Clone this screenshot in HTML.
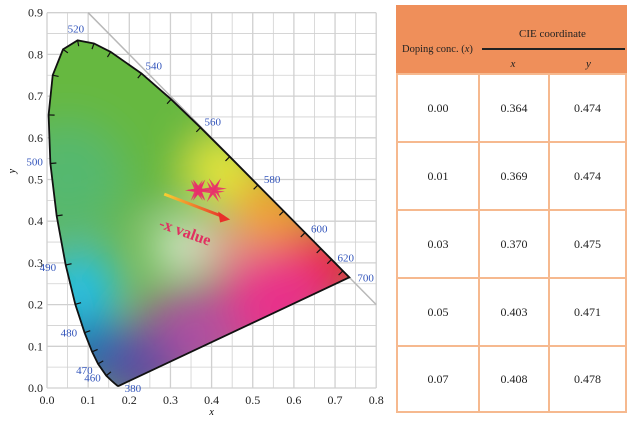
<!DOCTYPE html>
<html><head><meta charset="utf-8"><style>
body{margin:0;width:642px;height:424px;background:#fff;overflow:hidden;font-family:"Liberation Serif",serif}
.c{position:absolute;display:flex;align-items:center;justify-content:center;font-size:12px;color:#222;box-sizing:border-box}
</style></head><body>
<svg width="395" height="424" style="position:absolute;left:0;top:0">
<defs>
<filter id="bl" filterUnits="userSpaceOnUse" x="-200" y="-200" width="800" height="800"><feGaussianBlur stdDeviation="22"/></filter>
<clipPath id="cl"><path id="clp"/></clipPath>
<linearGradient id="ag" x1="0" y1="0" x2="1" y2="0"><stop offset="0" stop-color="#f8d030"/><stop offset="1" stop-color="#e8302a"/></linearGradient>
</defs>
<g id="grid"></g>
<g clip-path="url(#cl)"><rect x="0" y="0" width="395" height="424" fill="#6cb850"/><g id="fill" filter="url(#bl)"></g></g>
<g id="fg"></g>
</svg>
<div id="tbl" style="position:absolute;left:396px;top:5px;width:231px;height:408px;border:2px solid #f6b98f;box-sizing:border-box">
<div style="position:absolute;left:-2px;top:-2px;width:231px;height:68px;background:#ef8f5a"></div>
<div class="c" style="left:4px;top:32px;height:20px;font-size:10.5px">Doping conc. (<i>x</i>)</div>
<div class="c" style="left:82px;top:18px;width:145px;height:18px;font-size:11px">CIE coordinate</div>
<div style="position:absolute;left:84px;top:41px;width:143px;height:1.5px;background:#222"></div>
<div class="c" style="left:80px;top:50px;width:70px;height:14px;font-style:italic;font-size:11px">x</div>
<div class="c" style="left:152px;top:50px;width:77px;height:14px;font-style:italic;font-size:11px">y</div>
</div>
<script>
const dopings=["0.00","0.01","0.03","0.05","0.07"];
const cieX=[0.364,0.369,0.370,0.403,0.408];
const cieY=[0.474,0.474,0.475,0.471,0.478];
const locusWl=[380,420,440,450,460,470,475,480,485,490,495,500,505,510,515,520,525,530,540,550,560,570,580,590,600,610,620,640,700];
const locusX=[0.1741,0.1714,0.1644,0.1566,0.1440,0.1241,0.1096,0.0913,0.0687,0.0454,0.0235,0.0082,0.0039,0.0139,0.0389,0.0743,0.1142,0.1547,0.2296,0.3016,0.3731,0.4441,0.5125,0.5752,0.6270,0.6658,0.6915,0.7190,0.7347];
const locusY=[0.0050,0.0051,0.0109,0.0177,0.0297,0.0578,0.0868,0.1327,0.2007,0.2950,0.4127,0.5384,0.6548,0.7502,0.8120,0.8338,0.8262,0.8059,0.7543,0.6923,0.6245,0.5547,0.4866,0.4242,0.3725,0.3340,0.3083,0.2809,0.2653];
const labelWl=[380,460,470,480,490,500,520,540,560,580,600,620,700];
const xTicks=["0.0","0.1","0.2","0.3","0.4","0.5","0.6","0.7","0.8"];
const yTicks=["0.0","0.1","0.2","0.3","0.4","0.5","0.6","0.7","0.8","0.9"];
const X=v=>47+v*411.5, Y=v=>388-v*417;
const NS="http://www.w3.org/2000/svg";
function mk(p,t,a){const e=document.createElementNS(NS,t);for(const k in a)e.setAttribute(k,a[k]);p.appendChild(e);return e;}
const grid=document.getElementById('grid'),fg=document.getElementById('fg'),fill=document.getElementById('fill');
for(let i=0;i<=16;i++){const l=mk(grid,'line',{x1:X(i*0.05),x2:X(i*0.05),y1:Y(0),y2:Y(0.9),stroke:'#d0d0d0','stroke-width':i%2?0.8:1.3});
}
for(let i=0;i<=18;i++){const l=mk(grid,'line',{x1:X(0),x2:X(0.8),y1:Y(i*0.05),y2:Y(i*0.05),stroke:'#d0d0d0','stroke-width':i%2?0.8:1.3});
}
xTicks.forEach((t,i)=>{const e=mk(grid,'text',{x:X(i*0.1),y:404,'font-size':12,'text-anchor':'middle',fill:'#222'});e.textContent=t;
});
yTicks.forEach((t,i)=>{const e=mk(grid,'text',{x:43,y:Y(i*0.1)+4,'font-size':12,'text-anchor':'end',fill:'#222'});e.textContent=t;
});
let e=mk(grid,'text',{x:X(0.4),y:415,'font-size':10,'font-style':'italic','text-anchor':'middle'});e.textContent='x';

e=mk(grid,'text',{x:15,y:Y(0.52),'font-size':10,'font-style':'italic','text-anchor':'middle',transform:`rotate(-90 15 ${Y(0.52)})`});e.textContent='y';

e=mk(grid,'line',{x1:X(0.1),y1:Y(0.9),x2:X(0.8),y2:Y(0.2),stroke:'#b8b8b8','stroke-width':1.5});

const d='M'+locusX.map((x,i)=>X(x)+','+Y(locusY[i])).join('L')+'Z';
document.getElementById('clp').setAttribute('d',d);
[[0.15,0.7,'#66b840',70],[0.05,0.5,'#55b870',35],[0.43,0.52,'#f0ec3a',22],[0.55,0.42,'#f0a030',26],[0.68,0.29,'#e82a30',28],[0.55,0.2,'#e8308a',36],[0.35,0.12,'#b050a0',32],[0.22,0.05,'#6048a0',26],[0.1,0.1,'#1e60b0',22],[0.08,0.24,'#20c0ec',24],[0.32,0.34,'#ffffff',14],[0.42,0.34,'#f4a0a0',14]].forEach(c=>{
const el=mk(fill,'circle',{cx:X(c[0]),cy:Y(c[1]),r:c[3]*1.6,fill:c[2]});
});
e=mk(fg,'path',{d:d,fill:'none',stroke:'#111','stroke-width':1.8});

for(let i=1;i<locusX.length-1;i++){if(locusWl[i]<460)continue;
const dx=X(locusX[i+1])-X(locusX[i-1]),dy=Y(locusY[i+1])-Y(locusY[i-1]),n=Math.hypot(dx,dy);
const nx=dy/n,ny=-dx/n,px=X(locusX[i]),py=Y(locusY[i]);
const t=mk(fg,'line',{x1:px,y1:py,x2:px-nx*6,y2:py-ny*6,stroke:'#111','stroke-width':1.2});
}
const off={380:[6,6],460:[-22,6],470:[-22,10],480:[-24,4],490:[-26,6],500:[-24,2],520:[-10,-8],540:[4,-4],560:[4,-2],580:[6,-2],600:[6,0],620:[6,2],700:[8,4]};
labelWl.forEach(w=>{const i=locusWl.indexOf(w);const o=off[w];
const t=mk(fg,'text',{x:X(locusX[i])+o[0],y:Y(locusY[i])+o[1],'font-size':11,fill:'#3355bb'});t.textContent=w;
});
e=mk(fg,'line',{x1:X(0.285),y1:Y(0.465),x2:X(0.43),y2:Y(0.41),stroke:'url(#ag)','stroke-width':3});

e=mk(fg,'path',{d:`M${X(0.445)},${Y(0.404)} l-12,-8 l2,11 z`,fill:'#e8302a'});

e=mk(fg,'text',{x:X(0.27),y:Y(0.385),'font-size':16,'font-weight':'bold',fill:'#e03060',transform:`rotate(20 ${X(0.27)} ${Y(0.385)})`});
e.textContent='-x value';
cieX.forEach((x,i)=>{const cx=X(x),cy=Y(cieY[i]);let p='';
for(let k=0;k<12;k++){const a=k*Math.PI/6,r=k%2?3:12;p+=(k?'L':'M')+(cx+r*Math.cos(a))+','+(cy+r*Math.sin(a));}
const s=mk(fg,'path',{d:p+'Z',fill:'#e8306a','fill-opacity':0.9});
});
const tbl=document.getElementById('tbl');
const colL=[-2,80,150],colW=[84,72,79];
dopings.forEach((dp,i)=>{[dp,cieX[i].toFixed(3),cieY[i].toFixed(3)].forEach((v,j)=>{
const c=document.createElement('div');c.className='c';
c.style.cssText=`left:${colL[j]}px;top:${66+i*68}px;width:${colW[j]}px;height:${i==4?68:70}px;border:2px solid #f6b98f`;
c.textContent=v;


tbl.appendChild(c);});});
</script>
</body></html>
